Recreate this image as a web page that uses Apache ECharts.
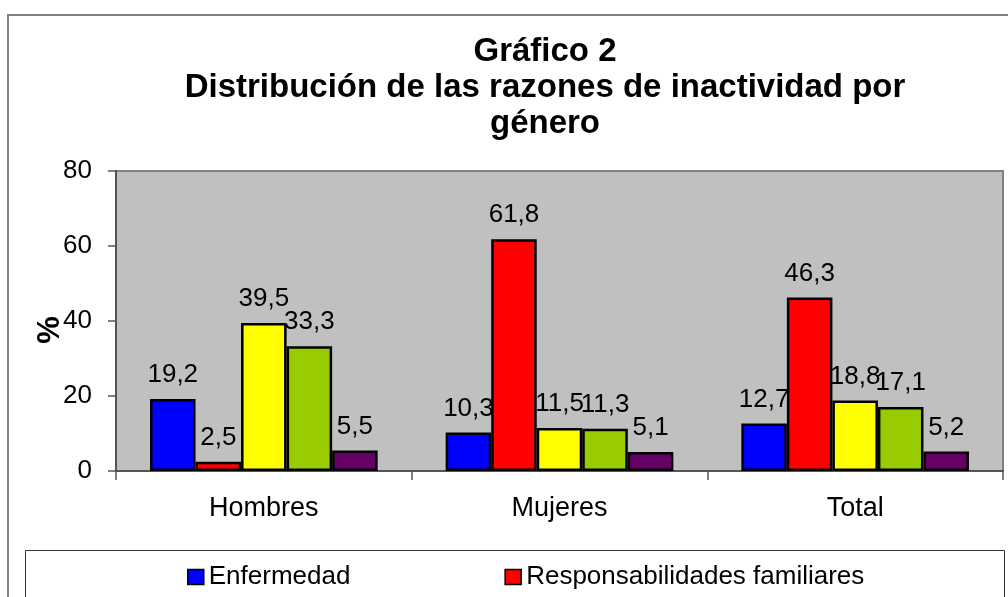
<!DOCTYPE html>
<html>
<head>
<meta charset="utf-8">
<script src="https://cdn.jsdelivr.net/npm/echarts@6/dist/echarts.min.js"></script>
<style>
html,body{margin:0;padding:0;background:#fff;}
#c{width:1008px;height:597px;}
</style>
</head>
<body>
<div id="c"></div>
<script>
const categories = ['Hombres', 'Mujeres', 'Total'];
const seriesNames = ['Enfermedad', 'Responsabilidades familiares', 'Serie 3', 'Serie 4', 'Serie 5'];
const enfermedad = [19.2, 10.3, 12.7];
const responsabilidades = [2.5, 61.8, 46.3];
const serie3 = [39.5, 11.5, 18.8];
const serie4 = [33.3, 11.3, 17.1];
const serie5 = [5.5, 5.1, 5.2];
const yTicks = [0, 20, 40, 60, 80];
const legendShown = ['Enfermedad', 'Responsabilidades familiares'];
const titleLines = ['Gráfico 2', 'Distribución de las razones de inactividad por', 'género'];

const colors = ['#0000FF', '#FF0000', '#FFFF00', '#99CC00', '#660066'];
const FONT = 'Liberation Sans, Arial, Helvetica, sans-serif';
const allData = [enfermedad, responsabilidades, serie3, serie4, serie5];

const chart = echarts.init(document.getElementById('c'), null, {renderer: 'canvas'});

const series = allData.map((d, i) => ({
  name: seriesNames[i],
  type: 'bar',
  data: d,
  barGap: '0%',
  barCategoryGap: '23%',
  itemStyle: {color: colors[i], borderColor: '#000', borderWidth: 2.5},
  label: {
    show: true,
    position: 'top',
    distance: 11,
    color: '#000',
    fontFamily: FONT,
    fontSize: 26,
    formatter: p => p.value.toFixed(1).replace('.', ',')
  },
  emphasis: {disabled: true},
  animation: false
}));

chart.setOption({
  animation: false,
  backgroundColor: '#fff',
  title: {
    text: titleLines.join('\n'),
    left: 540,
    top: 29,
    textAlign: 'center',
    textStyle: {fontFamily: FONT, fontSize: 33, fontWeight: 'bold', lineHeight: 36, color: '#000'}
  },
  legend: {
    data: legendShown,
    left: 182,
    top: 559,
    itemWidth: 16,
    itemHeight: 15,
    itemGap: 154,
    icon: 'rect',
    itemStyle: {borderColor: '#000', borderWidth: 1.5},
    textStyle: {fontFamily: FONT, fontSize: 26, color: '#000'}
  },
  grid: {
    left: 116, right: 5, top: 171, bottom: 126,
    show: true,
    backgroundColor: '#C0C0C0',
    borderColor: '#808080',
    borderWidth: 2
  },
  xAxis: {
    type: 'category',
    data: categories,
    axisLine: {lineStyle: {color: '#555', width: 2}},
    axisTick: {show: true, alignWithLabel: false, length: 9, lineStyle: {color: '#555', width: 1.5}},
    axisLabel: {fontFamily: FONT, fontSize: 27, color: '#000', margin: 24},
    splitLine: {show: false}
  },
  yAxis: {
    type: 'value',
    min: yTicks[0],
    max: yTicks[yTicks.length - 1],
    interval: 20,
    axisLine: {show: true, lineStyle: {color: '#555', width: 2}},
    axisTick: {show: true, length: 8, lineStyle: {color: '#555', width: 1.5}},
    axisLabel: {fontFamily: FONT, fontSize: 26, color: '#000', margin: 24},
    splitLine: {show: false}
  },
  graphic: [
    {type: 'rect', silent: true, z: -10, shape: {x: 8, y: 15, width: 1010, height: 600},
     style: {fill: 'none', stroke: '#808080', lineWidth: 2}},
    {type: 'rect', silent: true, z: -5, shape: {x: 25.5, y: 550.5, width: 979, height: 60},
     style: {fill: '#fff', stroke: '#333', lineWidth: 1}},
    {type: 'text', silent: true, x: 50, y: 330, rotation: Math.PI / 2,
     style: {text: '%', font: 'bold 31px ' + FONT, fill: '#000', align: 'center', verticalAlign: 'middle'}}
  ],
  series: series
});
</script>
</body>
</html>
